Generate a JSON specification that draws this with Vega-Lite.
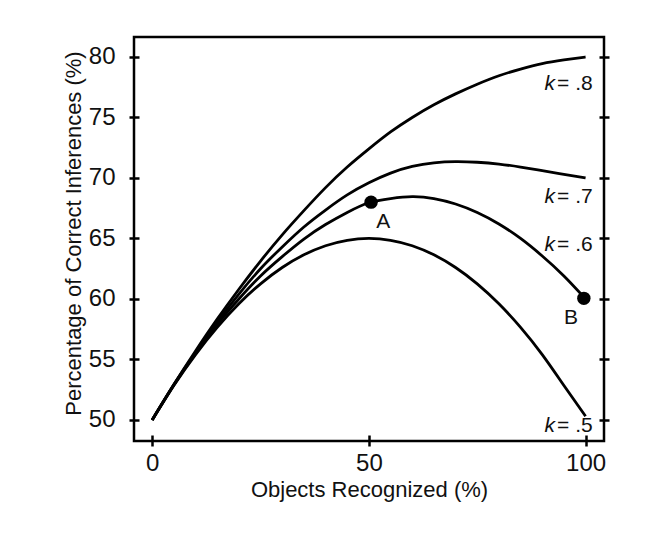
{
  "$schema": "https://vega.github.io/schema/vega-lite/v6.json",
  "width": 470,
  "height": 404,
  "autosize": {"type": "none"},
  "padding": {"left": 134, "top": 37, "right": 55, "bottom": 96},
  "background": "white",
  "config": {
    "view": {"stroke": "black", "strokeWidth": 2.5},
    "font": "Liberation Sans",
    "axis": {
      "domain": false,
      "grid": false,
      "tickColor": "black",
      "tickWidth": 2.5,
      "labelColor": "#111",
      "titleColor": "#111",
      "labelFont": "Liberation Sans",
      "titleFont": "Liberation Sans",
      "labelFontSize": 24,
      "titleFontSize": 22,
      "titleFontWeight": "normal"
    }
  },
  "datasets": {
    "curves": [
      {"k": ".5", "x": 0, "y": 50}, {"k": ".5", "x": 5, "y": 52.85}, {"k": ".5", "x": 10, "y": 55.4}, {"k": ".5", "x": 15, "y": 57.65}, {"k": ".5", "x": 20, "y": 59.6}, {"k": ".5", "x": 25, "y": 61.25}, {"k": ".5", "x": 30, "y": 62.6}, {"k": ".5", "x": 35, "y": 63.65}, {"k": ".5", "x": 40, "y": 64.4}, {"k": ".5", "x": 45, "y": 64.85}, {"k": ".5", "x": 50, "y": 65.0}, {"k": ".5", "x": 55, "y": 64.85}, {"k": ".5", "x": 60, "y": 64.4}, {"k": ".5", "x": 65, "y": 63.65}, {"k": ".5", "x": 70, "y": 62.6}, {"k": ".5", "x": 75, "y": 61.25}, {"k": ".5", "x": 80, "y": 59.6}, {"k": ".5", "x": 85, "y": 57.65}, {"k": ".5", "x": 90, "y": 55.4}, {"k": ".5", "x": 95, "y": 52.85}, {"k": ".5", "x": 100, "y": 50.3},
      {"k": ".6", "x": 0, "y": 50}, {"k": ".6", "x": 5, "y": 52.9}, {"k": ".6", "x": 10, "y": 55.5}, {"k": ".6", "x": 15, "y": 57.9}, {"k": ".6", "x": 20, "y": 60.0}, {"k": ".6", "x": 25, "y": 61.9}, {"k": ".6", "x": 30, "y": 63.5}, {"k": ".6", "x": 35, "y": 64.95}, {"k": ".6", "x": 40, "y": 66.15}, {"k": ".6", "x": 45, "y": 67.15}, {"k": ".6", "x": 50, "y": 67.95}, {"k": ".6", "x": 55, "y": 68.3}, {"k": ".6", "x": 60, "y": 68.45}, {"k": ".6", "x": 65, "y": 68.3}, {"k": ".6", "x": 70, "y": 67.85}, {"k": ".6", "x": 75, "y": 67.15}, {"k": ".6", "x": 80, "y": 66.2}, {"k": ".6", "x": 85, "y": 65.0}, {"k": ".6", "x": 90, "y": 63.55}, {"k": ".6", "x": 95, "y": 61.9}, {"k": ".6", "x": 100, "y": 60.0},
      {"k": ".7", "x": 0, "y": 50}, {"k": ".7", "x": 5, "y": 52.9}, {"k": ".7", "x": 10, "y": 55.6}, {"k": ".7", "x": 15, "y": 58.1}, {"k": ".7", "x": 20, "y": 60.4}, {"k": ".7", "x": 25, "y": 62.5}, {"k": ".7", "x": 30, "y": 64.3}, {"k": ".7", "x": 35, "y": 65.95}, {"k": ".7", "x": 40, "y": 67.35}, {"k": ".7", "x": 45, "y": 68.6}, {"k": ".7", "x": 50, "y": 69.6}, {"k": ".7", "x": 55, "y": 70.4}, {"k": ".7", "x": 60, "y": 70.95}, {"k": ".7", "x": 65, "y": 71.25}, {"k": ".7", "x": 70, "y": 71.35}, {"k": ".7", "x": 75, "y": 71.3}, {"k": ".7", "x": 80, "y": 71.15}, {"k": ".7", "x": 85, "y": 70.9}, {"k": ".7", "x": 90, "y": 70.6}, {"k": ".7", "x": 95, "y": 70.3}, {"k": ".7", "x": 100, "y": 70.0},
      {"k": ".8", "x": 0, "y": 50}, {"k": ".8", "x": 5, "y": 52.93}, {"k": ".8", "x": 10, "y": 55.7}, {"k": ".8", "x": 15, "y": 58.33}, {"k": ".8", "x": 20, "y": 60.8}, {"k": ".8", "x": 25, "y": 63.13}, {"k": ".8", "x": 30, "y": 65.3}, {"k": ".8", "x": 35, "y": 67.3}, {"k": ".8", "x": 40, "y": 69.2}, {"k": ".8", "x": 45, "y": 70.9}, {"k": ".8", "x": 50, "y": 72.4}, {"k": ".8", "x": 55, "y": 73.8}, {"k": ".8", "x": 60, "y": 75.0}, {"k": ".8", "x": 65, "y": 76.05}, {"k": ".8", "x": 70, "y": 76.95}, {"k": ".8", "x": 75, "y": 77.75}, {"k": ".8", "x": 80, "y": 78.45}, {"k": ".8", "x": 85, "y": 79.0}, {"k": ".8", "x": 90, "y": 79.45}, {"k": ".8", "x": 95, "y": 79.75}, {"k": ".8", "x": 100, "y": 80.0}
    ],
    "points": [
      {"name": "A", "x": 50.5, "y": 68.0},
      {"name": "B", "x": 99.6, "y": 60.05}
    ],
    "letters": [
      {"name": "A", "x": 53.3, "y": 65.87},
      {"name": "B", "x": 96.65, "y": 57.93}
    ],
    "klabels": [
      {"k": "= .8", "x": 93.2, "y": 77.27},
      {"k": "= .7", "x": 93.2, "y": 67.9},
      {"k": "= .6", "x": 93.2, "y": 64.0},
      {"k": "= .5", "x": 93.2, "y": 49.03}
    ]
  },
  "layer": [
    {
      "data": {"name": "curves"},
      "mark": {"type": "line", "interpolate": "natural", "color": "black", "strokeWidth": 2.8},
      "encoding": {
        "x": {
          "field": "x", "type": "quantitative",
          "scale": {"domain": [-4.2, 104.25], "nice": false, "zero": false},
          "axis": {"title": "Objects Recognized (%)", "values": [0, 50, 100], "tickSize": 11, "offset": -6, "labelPadding": 5, "titlePadding": 4}
        },
        "y": {
          "field": "y", "type": "quantitative",
          "scale": {"domain": [48.26, 81.65], "nice": false, "zero": false},
          "axis": {"title": "Percentage of Correct Inferences (%)", "values": [50, 55, 60, 65, 70, 75, 80], "tickSize": 10, "offset": -5, "labelPadding": 14, "titlePadding": 3, "titleY": 196}
        },
        "detail": {"field": "k"}
      }
    },
    {
      "data": {"name": "points"},
      "mark": {"type": "circle", "size": 180, "color": "black", "opacity": 1},
      "encoding": {
        "x": {"field": "x", "type": "quantitative"},
        "y": {
          "field": "y", "type": "quantitative",
          "axis": {"orient": "right", "labels": false, "title": null, "values": [50, 55, 60, 65, 70, 75, 80], "tickSize": 10, "offset": -5}
        }
      }
    },
    {
      "data": {"name": "letters"},
      "mark": {"type": "text", "align": "center", "baseline": "alphabetic", "fontSize": 21, "color": "#111"},
      "encoding": {
        "x": {"field": "x", "type": "quantitative"},
        "y": {"field": "y", "type": "quantitative", "axis": null},
        "text": {"field": "name"}
      }
    },
    {
      "data": {"name": "klabels"},
      "mark": {"type": "text", "text": "k", "fontStyle": "italic", "align": "right", "baseline": "alphabetic", "fontSize": 21, "color": "#111", "dx": -1},
      "encoding": {
        "x": {"field": "x", "type": "quantitative"},
        "y": {"field": "y", "type": "quantitative", "axis": null}
      }
    },
    {
      "data": {"name": "klabels"},
      "mark": {"type": "text", "align": "left", "baseline": "alphabetic", "fontSize": 21, "color": "#111", "dx": 1},
      "encoding": {
        "x": {"field": "x", "type": "quantitative"},
        "y": {"field": "y", "type": "quantitative", "axis": null},
        "text": {"field": "k"}
      }
    }
  ],
  "resolve": {"axis": {"y": "independent"}}
}
